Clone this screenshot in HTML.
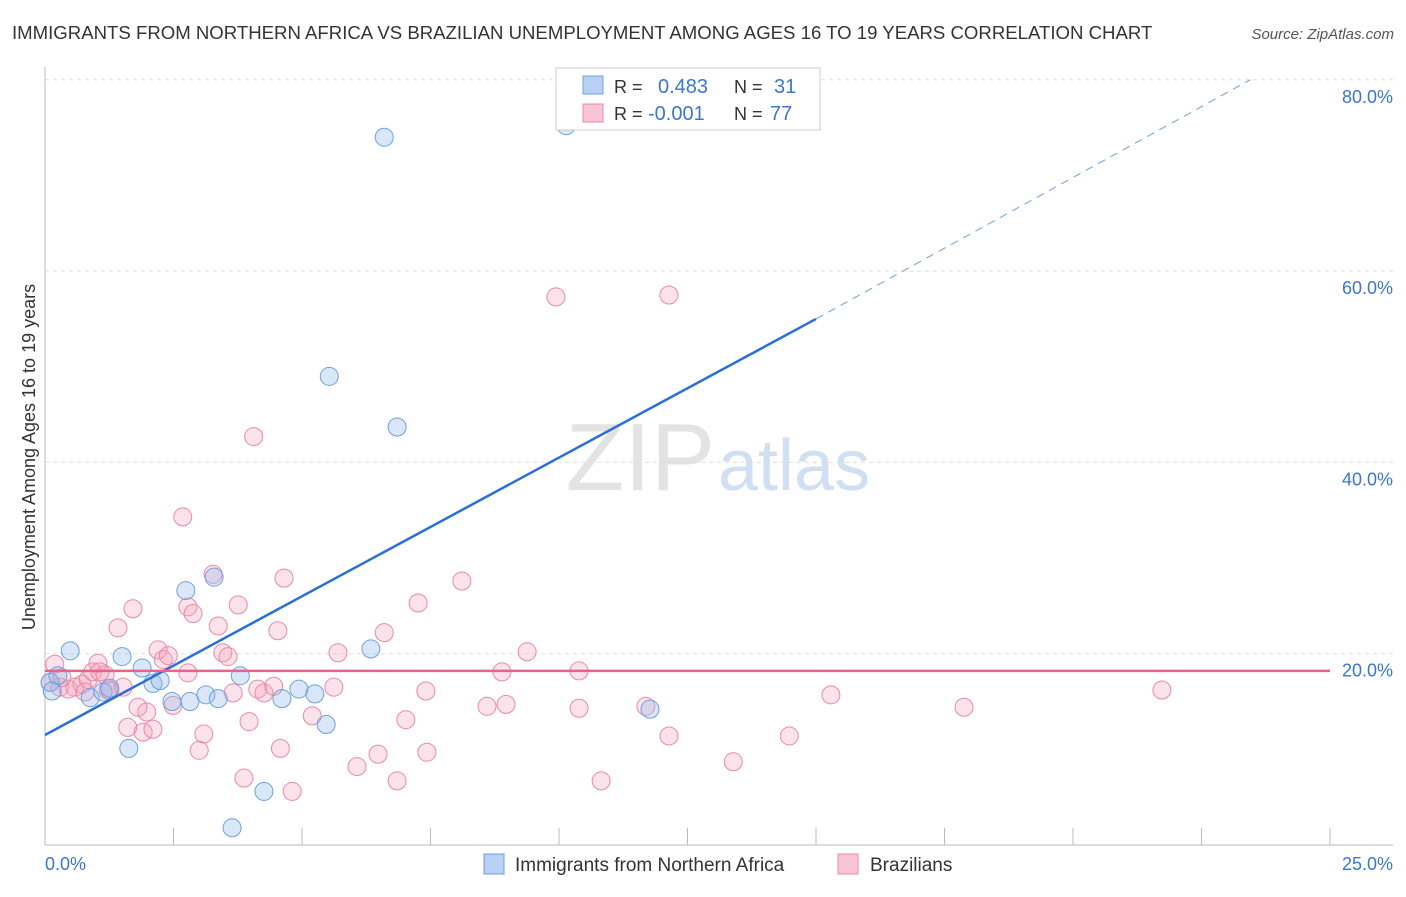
<!DOCTYPE html>
<html><head><meta charset="utf-8"><style>
body{margin:0;background:#fff;font-family:"Liberation Sans",sans-serif}
svg text{font-family:"Liberation Sans",sans-serif}
</style></head><body>
<svg id="c" width="1406" height="892">
<text x="12" y="39" font-size="18.6" fill="#333">IMMIGRANTS FROM NORTHERN AFRICA VS BRAZILIAN UNEMPLOYMENT AMONG AGES 16 TO 19 YEARS CORRELATION CHART</text>
<text x="1394" y="39" font-size="15" fill="#555" text-anchor="end" font-style="italic">Source: ZipAtlas.com</text>
<text x="715" y="490" font-size="96" fill="#e3e3e3" text-anchor="end" font-family="Liberation Serif">ZIP</text>
<text x="718" y="490" font-size="72" fill="#d0dff2">atlas</text>
<g id="grid"></g><g id="pts"></g><g id="lines"></g>
<text transform="translate(35,457) rotate(-90)" font-size="18" fill="#333" text-anchor="middle">Unemployment Among Ages 16 to 19 years</text>
<text x="45" y="870" font-size="18" fill="#3a76d0">0.0%</text>
<text x="1393" y="870" font-size="18" fill="#3a76d0" text-anchor="end">25.0%</text>
<g>
<rect x="556" y="68" width="264" height="62" fill="#fff" stroke="#ccc"/>
<rect x="583" y="76" width="20" height="18" fill="#b9d1f5" stroke="#6f9fe0"/>
<rect x="583" y="104" width="20" height="18" fill="#f9c5d4" stroke="#e98aa6"/>
<text x="614" y="93" font-size="18" fill="#333">R =</text><text x="658" y="93" font-size="20" fill="#3a76d0">0.483</text>
<text x="734" y="93" font-size="18" fill="#333">N =</text><text x="774" y="93" font-size="20" fill="#3a76d0">31</text>
<text x="614" y="120" font-size="18" fill="#333">R =</text><text x="648" y="120" font-size="20" fill="#3a76d0">-0.001</text>
<text x="734" y="120" font-size="18" fill="#333">N =</text><text x="770" y="120" font-size="20" fill="#3a76d0">77</text>
</g>
<g>
<rect x="484" y="854" width="20" height="20" fill="#b9d1f5" stroke="#6f9fe0"/>
<text x="515" y="871" font-size="19" fill="#333">Immigrants from Northern Africa</text>
<rect x="838" y="854" width="20" height="20" fill="#f9c5d4" stroke="#e98aa6"/>
<text x="870" y="871" font-size="19" fill="#333">Brazilians</text>
</g>
</svg>
<script>
const yTicks=[20,40,60,80];
const xTicks=[0,2.5,5,7.5,10,12.5,15,17.5,20,22.5,25];
const blueX=[0.1,0.25,0.49,0.88,1.13,1.26,1.5,1.63,1.89,2.1,2.24,2.47,2.74,2.82,3.13,3.29,3.37,3.8,4.26,3.64,4.61,4.94,5.25,5.47,5.53,6.34,6.6,6.85,10.14,11.77,0.14];
const blueY=[17.0,17.7,20.3,15.4,16.0,16.4,19.7,10.1,18.5,16.9,17.2,15.0,26.6,15.0,15.7,28.0,15.3,17.7,5.6,1.8,15.3,16.3,15.8,12.6,49.0,20.5,74.0,43.7,75.2,14.2,16.1];
const pinkX=[0.1,0.19,0.29,0.45,0.58,0.72,0.84,0.93,1.03,1.17,1.26,1.42,1.52,1.61,1.71,1.81,1.91,1.98,2.1,2.2,2.3,2.4,2.49,2.68,2.78,2.78,2.88,3.0,3.09,3.27,3.37,3.46,3.56,3.66,3.76,3.87,3.97,4.06,4.14,4.26,4.45,4.58,4.53,4.65,4.81,5.2,5.62,5.7,6.07,6.48,6.6,6.85,7.02,7.26,7.41,7.43,8.11,8.6,8.89,8.97,9.38,9.94,10.39,10.39,10.82,11.69,12.14,12.14,13.39,14.48,15.29,17.88,21.73,1.23,1.07,0.78,0.33];
const pinkY=[17.0,18.9,16.5,16.3,16.5,16.8,17.3,18.1,19.0,17.8,16.2,22.7,16.5,12.3,24.7,14.4,11.8,13.9,12.1,20.4,19.4,19.8,14.6,34.3,18.0,24.9,24.2,9.9,11.6,28.3,22.9,20.1,19.7,15.9,25.1,7.0,12.9,42.7,16.3,15.9,16.6,10.1,22.4,27.9,5.6,13.5,16.5,20.1,8.2,9.5,22.2,6.7,13.1,25.3,16.1,9.7,27.6,14.5,18.1,14.7,20.2,57.3,18.2,14.3,6.7,14.5,57.5,11.4,8.7,11.4,15.7,14.4,16.2,16.2,18.1,16.0,17.5];
const blueLine=[0,11.5,15,55,23.45,80];
const pinkLevel=18.2;
const X=v=>45+v*51.4, Y=v=>845-v*9.565;
const ns="http://www.w3.org/2000/svg";
function mk(t,a,p){const e=document.createElementNS(ns,t);for(const k in a)e.setAttribute(k,a[k]);document.getElementById(p).appendChild(e);return e;}
let g;
g=mk('line',{x1:45,y1:67,x2:45,y2:845,stroke:'#bbb'},'grid');


g=mk('line',{x1:45,y1:845,x2:1393,y2:845,stroke:'#bbb'},'grid');


yTicks.forEach(t=>{
 g=mk('line',{x1:45,y1:Y(t),x2:1393,y2:Y(t),stroke:'#ddd','stroke-dasharray':'4,4'},'grid');
 
 
 g=mk('text',{x:1393,y:Y(t)+23,'font-size':18,fill:'#3a76d0','text-anchor':'end'},'grid');
 g.textContent=t.toFixed(1)+'%';
 
 
});
xTicks.forEach(t=>{
 g=mk('line',{x1:X(t),y1:828,x2:X(t),y2:845,stroke:'#bbb'},'grid');
 
 
});
pinkX.forEach((x,i)=>{
 g=mk('circle',{cx:X(x),cy:Y(pinkY[i]),r:9,fill:'rgba(244,160,186,0.3)',stroke:'#e98aa6','stroke-width':1},'pts');
 
 
});
blueX.forEach((x,i)=>{
 g=mk('circle',{cx:X(x),cy:Y(blueY[i]),r:9,fill:'rgba(150,185,235,0.35)',stroke:'#6f9fe0','stroke-width':1},'pts');
 
 
});
g=mk('line',{x1:X(blueLine[0]),y1:Y(blueLine[1]),x2:X(blueLine[2]),y2:Y(blueLine[3]),stroke:'#2a6fd6','stroke-width':2.5},'lines');


g=mk('line',{x1:X(blueLine[2]),y1:Y(blueLine[3]),x2:X(blueLine[4]),y2:Y(blueLine[5]),stroke:'#6f9fe0','stroke-width':1,'stroke-dasharray':'8,6'},'lines');


g=mk('line',{x1:45,y1:Y(pinkLevel),x2:1330,y2:Y(pinkLevel),stroke:'#e8638c','stroke-width':2.5},'lines');


</script>
</body></html>
